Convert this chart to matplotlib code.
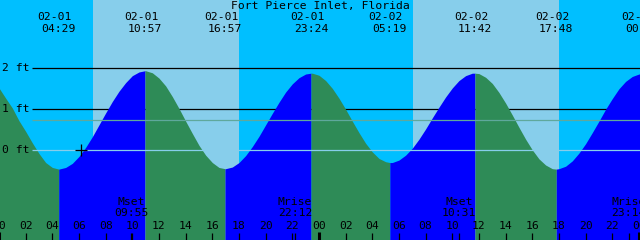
import numpy as np
import matplotlib.pyplot as plt

station = "Fort Pierce Inlet, Florida"

# high / low tides
event_dates = ["02-01", "02-01", "02-01", "02-01", "02-02", "02-02", "02-02", "02-03"]
event_times = ["04:29", "10:57", "16:57", "23:24", "05:19", "11:42", "17:48", "00:18"]
event_kind = ["L", "H", "L", "H", "L", "H", "L", "H"]
event_ft = [-0.46, 1.94, -0.45, 1.88, -0.30, 1.88, -0.46, 1.86]

# tide height read every 30 minutes from 02-01 00:00 to 02-03 00:00
halfhour_ft = [1.52, 1.27, 1.03, 0.72, 0.46, 0.18, -0.08, -0.30, -0.42, -0.46,
               -0.42, -0.32, -0.15, 0.07, 0.33, 0.62, 0.91, 1.19, 1.44, 1.65,
               1.82, 1.91, 1.94, 1.89, 1.76, 1.57, 1.31, 1.02, 0.71, 0.41,
               0.12, -0.12, -0.30, -0.42, -0.45, -0.41, -0.30, -0.13, 0.09, 0.34,
               0.62, 0.90, 1.17, 1.42, 1.62, 1.77, 1.86, 1.88, 1.83, 1.70,
               1.51, 1.27, 1.00, 0.71, 0.43, 0.17, -0.04, -0.20, -0.28, -0.30,
               -0.24, -0.12, 0.05, 0.27, 0.52, 0.79, 1.05, 1.30, 1.52, 1.70,
               1.82, 1.88, 1.87, 1.78, 1.63, 1.41, 1.15, 0.86, 0.56, 0.27,
               0.01, -0.21, -0.36, -0.45, -0.45, -0.39, -0.26, -0.07, 0.16, 0.43,
               0.71, 1.00, 1.26, 1.50, 1.68, 1.80, 1.86]

sun_rise = ["02-01 07:03", "02-02 07:03"]
sun_set = ["02-01 18:00", "02-02 18:00"]

moon_dates = ["02-01", "02-01", "02-02", "02-02"]
moon_times = ["09:55", "22:12", "10:31", "23:14"]
moon_kind = ["Mset", "Mrise", "Mset", "Mrise"]

hour_labels = ["00", "02", "04", "06", "08", "10", "12", "14", "16", "18", "20", "22"]

msl_ft = 0.73
now_time = "02-01 06:09"


def to_hours(stamp):
    date, hm = stamp.split()
    day = int(date.split("-")[1]) - 1
    hh, mm = hm.split(":")
    return day * 24 + int(hh) + int(mm) / 60


night_c = "#00BFFF"
day_c = "#87CEEB"
fall_c = "#2E8B57"
rise_c = "#0000FF"
mono = "DejaVu Sans Mono"
fs = 8.2

fig = plt.figure(figsize=(6.4, 2.4), dpi=100)
ax = fig.add_axes([0, 0, 1, 1])
ax.set_axis_off()
x0, x1 = 0.075, 48.08
ax.set_xlim(x0, x1)
ax.set_ylim(-2.19, 3.666)

# day / night background
ax.axvspan(-1, 60, color=night_c, zorder=0, lw=0)
for r, s in zip(sun_rise, sun_set):
    ax.axvspan(to_hours(r), to_hours(s), color=day_c, zorder=0.5, lw=0)

# foot lines behind the water
line_start = 2.48
for ft in [1, 2]:
    ax.hlines(ft, line_start, x1 + 1, color="black", lw=0.9, zorder=1)

# tide curve
ev_hours = [to_hours(d + " " + t) for d, t in zip(event_dates, event_times)]
hours = np.arange(len(halfhour_ft)) * 0.5
t = np.concatenate([hours, ev_hours])
h = np.concatenate([halfhour_ft, event_ft])
order = np.argsort(t)
t, h = t[order], h[order]

bounds = [-10] + ev_hours + [60]
kinds = event_kind + ["L"]
for i in range(len(bounds) - 1):
    m = (t >= bounds[i]) & (t <= bounds[i + 1])
    col = rise_c if kinds[i] == "H" else fall_c
    ax.fill_between(t[m], h[m], -3, color=col, lw=0, zorder=2)

# mean sea level and datum lines on top
ax.hlines(msl_ft, line_start, x1 + 1, color="#5FA89C", lw=0.9, zorder=3)
ax.hlines(0, line_start, x1 + 1, color=day_c, lw=0.9, zorder=3)

ax.plot([to_hours(now_time)], [0], marker="+", color="black", ms=8, mew=0.9, zorder=4)

# foot labels
for ft in [2, 1, 0]:
    ax.text(2 / 640, ft, f"{ft} ft", transform=ax.get_yaxis_transform(),
            ha="left", va="center", fontsize=fs, family=mono, zorder=5)

xt = ax.get_xaxis_transform()


def yfrac(py):
    return 1 - py / 240


# title and tide times
ax.text(0.5, yfrac(5.5), station, transform=ax.transAxes, ha="center", va="center",
        fontsize=fs, family=mono)
for hr, d, tm in zip(ev_hours, event_dates, event_times):
    ax.annotate(d, (hr, yfrac(17.5)), xycoords=xt, xytext=(-4, 0), textcoords="offset pixels",
                ha="center", va="center", fontsize=fs, family=mono, annotation_clip=False)
    ax.text(hr, yfrac(29), tm, transform=xt, ha="center", va="center", fontsize=fs, family=mono)

# hour axis
for day in [0, 24, 48]:
    for k, lab in enumerate(hour_labels):
        hr = day + 2 * k
        if hr > 50:
            continue
        if lab == "00":
            ax.vlines(hr, 0, 8 / 240, transform=xt, color="black", lw=2.2, zorder=5)
        else:
            ax.vlines(hr, 0, 7 / 240, transform=xt, color="black", lw=0.9, zorder=5)
        ax.text(hr, yfrac(226), lab, transform=xt, ha="center", va="center",
                fontsize=fs, family=mono, zorder=5)

# moon rise / set
for d, tm, kind in zip(moon_dates, moon_times, moon_kind):
    hr = to_hours(d + " " + tm)
    ax.vlines(hr, 0, 7 / 240, transform=xt, color="black", lw=0.9, zorder=5)
    ax.text(hr, yfrac(202), kind, transform=xt, ha="center", va="center",
            fontsize=fs, family=mono, zorder=5)
    ax.text(hr, yfrac(213.5), tm, transform=xt, ha="center", va="center",
            fontsize=fs, family=mono, zorder=5)

fig.savefig("out.png", dpi=100)
